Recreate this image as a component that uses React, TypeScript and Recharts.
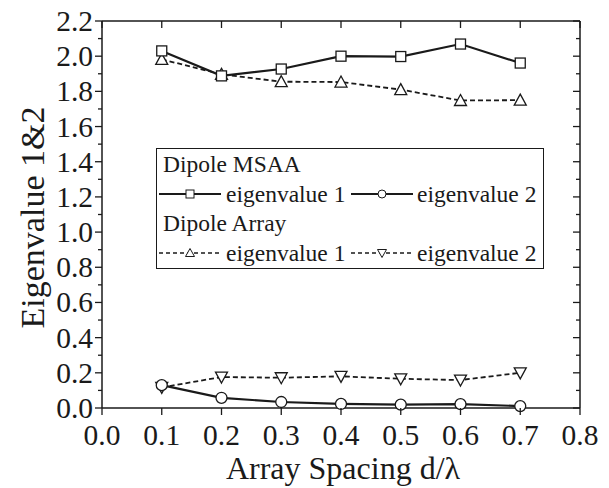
import React from 'react';
import { LineChart, Line, XAxis, YAxis } from 'recharts';

const spacing = [0.1, 0.2, 0.3, 0.4, 0.5, 0.6, 0.7];
const msaaEig1 = [2.03, 1.888, 1.927, 2.0, 1.998, 2.069, 1.961];
const msaaEig2 = [0.13, 0.058, 0.034, 0.023, 0.019, 0.022, 0.011];
const arrayEig1 = [1.982, 1.897, 1.855, 1.853, 1.81, 1.748, 1.75];
const arrayEig2 = [0.117, 0.176, 0.172, 0.18, 0.166, 0.159, 0.2];

const xTicks = [0, 0.1, 0.2, 0.3, 0.4, 0.5, 0.6, 0.7, 0.8];
const yTicks = [0, 0.1, 0.2, 0.3, 0.4, 0.5, 0.6, 0.7, 0.8, 0.9, 1.0, 1.1, 1.2, 1.3, 1.4, 1.5, 1.6, 1.7, 1.8, 1.9, 2.0, 2.1, 2.2];

const data = spacing.map((s, i) => ({
  x: s,
  m1: msaaEig1[i],
  m2: msaaEig2[i],
  a1: arrayEig1[i],
  a2: arrayEig2[i],
}));

const FONT = '"Liberation Serif", "Times New Roman", serif';
const INK = '#1a1a1a';

const isMajorY = (v: number) => Math.round(v * 10) % 2 === 0;

const LeftTick = (props: any) => {
  const { x, y, payload } = props;
  const v = payload.value as number;
  const major = isMajorY(v);
  return (
    <g>
      <line x1={x} x2={x - (major ? 7 : 4)} y1={y} y2={y} stroke={INK} strokeWidth={1.3} />
      {major && (
        <text x={x - 9} y={y + 10} textAnchor="end" fontFamily={FONT} fontSize={29.5} fill={INK}>
          {v.toFixed(1)}
        </text>
      )}
    </g>
  );
};

const RightTick = (props: any) => {
  const { x, y, payload } = props;
  const v = payload.value as number;
  const major = isMajorY(v);
  return <line x1={x} x2={x - (major ? 7 : 4)} y1={y} y2={y} stroke={INK} strokeWidth={1.3} />;
};

const BottomTick = (props: any) => {
  const { x, y, payload } = props;
  const v = payload.value as number;
  return (
    <g>
      <line x1={x} x2={x} y1={y} y2={y + 7} stroke={INK} strokeWidth={1.3} />
      <text x={x} y={y + 37} textAnchor="middle" fontFamily={FONT} fontSize={29.5} fill={INK}>
        {v.toFixed(1)}
      </text>
    </g>
  );
};

const TopTick = (props: any) => {
  const { x, y } = props;
  return <line x1={x} x2={x} y1={y} y2={y + 7} stroke={INK} strokeWidth={1.3} />;
};

const Square = (props: any) => {
  const { cx, cy, index } = props;
  if (cx == null || cy == null) return <g key={index} />;
  return <rect key={index} x={cx - 5} y={cy - 5} width={10} height={10} fill="#fff" stroke={INK} strokeWidth={1.3} />;
};

const TriUp = (props: any) => {
  const { cx, cy, index } = props;
  if (cx == null || cy == null) return <g key={index} />;
  return (
    <path key={index} d={`M${cx},${cy - 6} L${cx + 6},${cy + 5} L${cx - 6},${cy + 5} Z`} fill="#fff" stroke={INK} strokeWidth={1.3} />
  );
};

const TriDown = (props: any) => {
  const { cx, cy, index } = props;
  if (cx == null || cy == null) return <g key={index} />;
  return (
    <path key={index} d={`M${cx},${cy + 6} L${cx + 6},${cy - 5} L${cx - 6},${cy - 5} Z`} fill="#fff" stroke={INK} strokeWidth={1.3} />
  );
};

const Sample = ({ dashed, marker }: { dashed: boolean; marker: string }) => (
  <svg width={62} height={14} style={{ display: 'block', flex: 'none' }}>
    <line x1={0} x2={62} y1={7} y2={7} stroke={INK} strokeWidth={dashed ? 1.6 : 2} strokeDasharray={dashed ? '4 3' : undefined} />
    {marker === 'square' && <rect x={27} y={3} width={8} height={8} fill="#fff" stroke={INK} strokeWidth={1} />}
    {marker === 'circle' && <circle cx={31} cy={7} r={4} fill="#fff" stroke={INK} strokeWidth={1} />}
    {marker === 'up' && <path d="M31,2.5 L35.5,10.5 L26.5,10.5 Z" fill="#fff" stroke={INK} strokeWidth={1} />}
    {marker === 'down' && <path d="M31,11.5 L35.5,3.5 L26.5,3.5 Z" fill="#fff" stroke={INK} strokeWidth={1} />}
  </svg>
);

const rowStyle: React.CSSProperties = { display: 'flex', alignItems: 'center', height: 29.5, whiteSpace: 'nowrap' };

const LegendBox = () => (
  <div
    style={{
      position: 'absolute',
      left: 156,
      top: 148,
      border: `1px solid ${INK}`,
      width: 388,
      height: 121,
      boxSizing: 'border-box',
      fontFamily: FONT,
      fontSize: 23.5,
      color: INK,
      background: '#fff',
      padding: '1px 0 0 2px',
    }}
  >
    <div style={{ ...rowStyle, paddingLeft: 4 }}>Dipole MSAA</div>
    <div style={rowStyle}>
      <Sample dashed={false} marker="square" />
      <span style={{ marginLeft: 5, width: 125 }}>eigenvalue 1</span>
      <Sample dashed={false} marker="circle" />
      <span style={{ marginLeft: 4 }}>eigenvalue 2</span>
    </div>
    <div style={{ ...rowStyle, paddingLeft: 4 }}>Dipole Array</div>
    <div style={rowStyle}>
      <Sample dashed={true} marker="up" />
      <span style={{ marginLeft: 5, width: 125 }}>eigenvalue 1</span>
      <Sample dashed={true} marker="down" />
      <span style={{ marginLeft: 4 }}>eigenvalue 2</span>
    </div>
  </div>
);

export default function App() {
  return (
    <div style={{ position: 'absolute', left: 0, top: 0, width: 609, height: 488, background: '#fff' }}>
      <LineChart width={609} height={488} data={data} margin={{ top: 20, right: 0, bottom: 0, left: 0 }}>
        <XAxis
          dataKey="x"
          type="number"
          domain={[0, 0.8]}
          ticks={xTicks}
          interval={0}
          height={80}
          tickSize={0}
          tickMargin={0}
          tickLine={false}
          axisLine={{ stroke: INK, strokeWidth: 1.5 }}
          tick={<BottomTick />}
          label={(p: any) => {
            const vb = p.viewBox;
            return (
              <text x={vb.x + vb.width / 2 + 2} y={vb.y + 71} textAnchor="middle" fontFamily={FONT} fontSize={32} fill={INK}>
                Array Spacing d/λ
              </text>
            );
          }}
        />
        <XAxis
          xAxisId="top"
          dataKey="x"
          type="number"
          orientation="top"
          domain={[0, 0.8]}
          ticks={xTicks}
          interval={0}
          height={1}
          tickSize={0}
          tickMargin={0}
          tickLine={false}
          axisLine={{ stroke: INK, strokeWidth: 1.5 }}
          tick={<TopTick />}
        />
        <YAxis
          type="number"
          domain={[0, 2.2]}
          ticks={yTicks}
          interval={0}
          width={102}
          tickSize={0}
          tickMargin={0}
          tickLine={false}
          axisLine={{ stroke: INK, strokeWidth: 1.5 }}
          tick={<LeftTick />}
          label={(p: any) => {
            const vb = p.viewBox;
            const cx = vb.x + 32;
            const cy = vb.y + vb.height / 2 + 3;
            return (
              <text x={cx} y={cy} transform={`rotate(-90 ${cx} ${cy})`} textAnchor="middle" dominantBaseline="central" fontFamily={FONT} fontSize={34} fill={INK}>
                Eigenvalue 1&amp;2
              </text>
            );
          }}
        />
        <YAxis
          yAxisId="right"
          orientation="right"
          type="number"
          domain={[0, 2.2]}
          ticks={yTicks}
          interval={0}
          width={29}
          tickSize={0}
          tickMargin={0}
          tickLine={false}
          axisLine={{ stroke: INK, strokeWidth: 1.5 }}
          tick={<RightTick />}
        />
        <Line
          xAxisId="top"
          yAxisId="right"
          dataKey="m1"
          type="linear"
          stroke="none"
          dot={false}
          activeDot={false}
          legendType="none"
          isAnimationActive={false}
        />
        <Line dataKey="a1" type="linear" stroke={INK} strokeWidth={1.8} strokeDasharray="5 3" dot={<TriUp />} isAnimationActive={false} />
        <Line dataKey="a2" type="linear" stroke={INK} strokeWidth={1.8} strokeDasharray="5 3" dot={<TriDown />} isAnimationActive={false} />
        <Line dataKey="m1" type="linear" stroke={INK} strokeWidth={2.2} dot={<Square />} isAnimationActive={false} />
        <Line
          dataKey="m2"
          type="linear"
          stroke={INK}
          strokeWidth={2.2}
          dot={{ r: 5.5, fill: '#fff', stroke: INK, strokeWidth: 1.3 }}
          isAnimationActive={false}
        />
      </LineChart>
      <LegendBox />
    </div>
  );
}
